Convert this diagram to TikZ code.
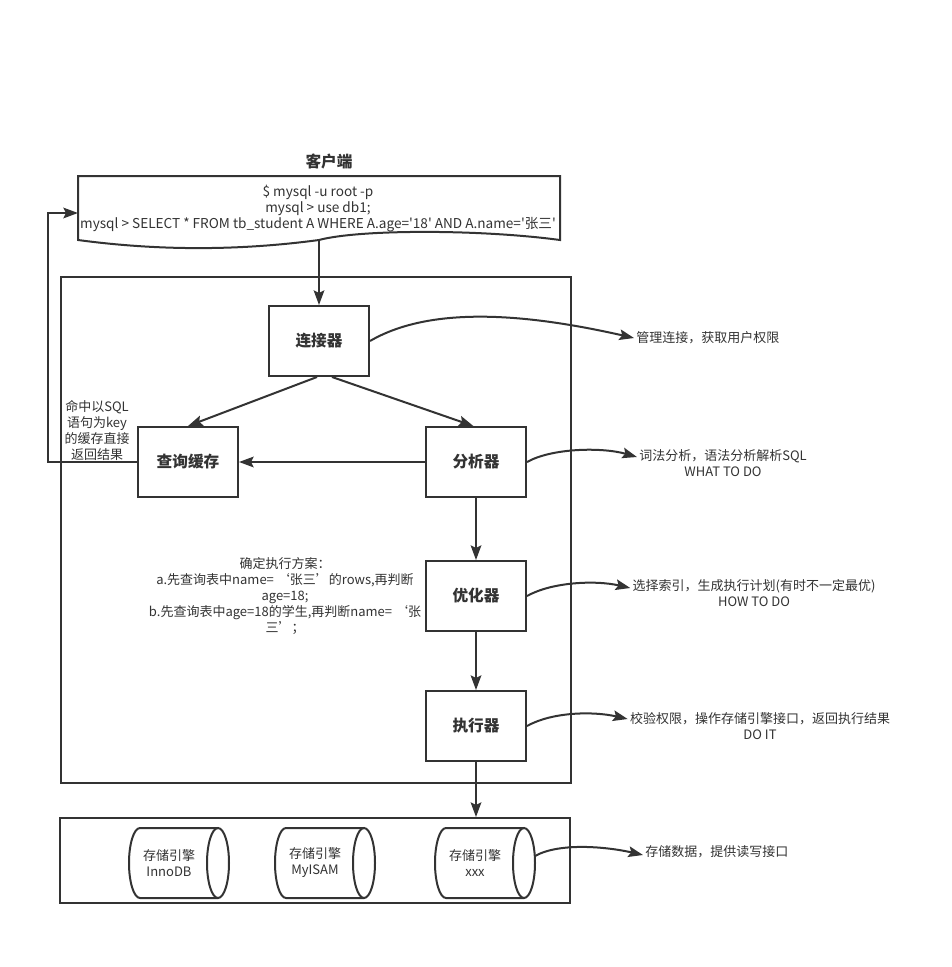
\documentclass[tikz,border=0pt]{standalone}
\usepackage{fontspec}
\setmainfont{Noto Sans CJK SC}[Ligatures=TeXOff]
\usetikzlibrary{arrows.meta}
\definecolor{ink}{HTML}{333333}

\tikzset{
  box/.style={draw, line width=1.5pt, minimum width=75pt, minimum height=52.5pt,
    font=\fontsize{11.75}{14}\selectfont\bfseries},
  note/.style={font=\fontsize{9.75}{12}\selectfont, align=center, inner sep=1pt},
  arr/.style={-{Stealth[length=11pt,width=8pt,inset=2pt]}}
}

\begin{document}
\begin{tikzpicture}[x=0.75pt, y=-0.75pt, color=ink, line width=1.5pt]

      \useasboundingbox[fill=white] (0,0) rectangle (952,967);

      % client
      \node[font=\fontsize{11.75}{14}\selectfont\bfseries] (title) at (329,162) {客户端};
      \draw (78,176) -- (560,176) -- (560,240)
        .. controls (479.7,229.2) and (359.3,229.2) .. (319,240)
        .. controls (238.7,250.8) and (158.3,250.8) .. (78,240) -- cycle;
      \node[note, font=\fontsize{10.2}{12}\selectfont] (sql) at (318,209) {\$ mysql -u root -p\\mysql > use db1;\\mysql > SELECT * FROM tb\_student A WHERE A.age='18' AND A.name='张三'};
      \coordinate (docout) at (319,240);
      \coordinate (docin) at (78,213);
      \coordinate (bend) at (48,213);

      % server and storage
      \node[draw, minimum width=382.5pt, minimum height=379.5pt] (server) at (316,530) {};
      \node[draw, minimum width=382.5pt, minimum height=63.75pt] (store) at (315,860.5) {};

      \begin{scope}[every node/.style={box}]
        \node (conn)  at (319,341) {连接器};
        \node (cache) at (188,462) {查询缓存};
        \node (ana)   at (476,462) {分析器};
        \node (opt)   at (476,596) {优化器};
        \node (exec)  at (476,726) {执行器};
      \end{scope}

      \foreach \x/\n/\t in {129/inno/InnoDB, 275/myi/MyISAM, 435/xxx/xxx} {
        \draw (\x+89,828) -- (\x+11,828)
          arc[start angle=90, end angle=270, x radius=8.25pt, y radius=26.25pt] -- (\x+89,898);
        \draw (\x+89,863) ellipse [x radius=8.25pt, y radius=26.25pt];
        \node[note] (\n) at (\x+40,863) {存储引擎\\\t};
        \coordinate (\n-e) at (\x+100,856);
      }

      % labels
      \node[note] (hit)  at (97,430) {命中以SQL\\语句为key\\的缓存直接\\返回结果};
      \node[note] (plan) at (285,596) {确定执行方案：\\a.先查询表中name= ‘张三’的rows,再判断\\age=18;\\b.先查询表中age=18的学生,再判断name= ‘张\\三’；};
      \node[note, anchor=west] (t1) at (634,338) {管理连接，获取用户权限};
      \node[note] (t2) at (723,463) {词法分析，语法分析解析SQL\\WHAT TO DO};
      \node[note] (t3) at (754,593) {选择索引，生成执行计划(有时不一定最优)\\HOW TO DO};
      \node[note] (t4) at (760,726) {校验权限，操作存储引擎接口，返回执行结果\\DO IT};
      \node[note, anchor=west] (t5) at (643,852) {存储数据，提供读写接口};

      \begin{scope}[every edge/.style={draw, arr}]
        \path (docout) edge (conn.north);
        \path ([xshift=-1.5pt]conn.south) edge (cache.north);
        \path ([xshift=9.75pt]conn.south) edge ([xshift=-2pt]ana.north);
        \path (ana.west) edge (cache.east);
        \path (ana) edge (opt);
        \path (opt) edge (exec);
        \path (exec.south) edge (exec.south |- store.north);
      \end{scope}

      \draw[arr] (cache.west) -| (bend) -- (docin);

      \draw[arr] (conn.east) .. controls +(60,-35) and +(-110,-25) .. (t1.west);
      \draw[arr] (ana.east) .. controls +(25,-14) and +(-35,-10) .. ([yshift=4.5pt]t2.west);
      \draw[arr] (opt.east) .. controls +(25,-14) and +(-35,-8) .. ([yshift=3.75pt]t3.west);
      \draw[arr] (exec.east) .. controls +(25,-14) and +(-35,-8) .. ([yshift=5.25pt]t4.west);
      \draw[arr] (xxx-e) .. controls +(25,-14) and +(-35,-8) .. ([yshift=-2.25pt]t5.west);

    \end{tikzpicture}
\end{document}
